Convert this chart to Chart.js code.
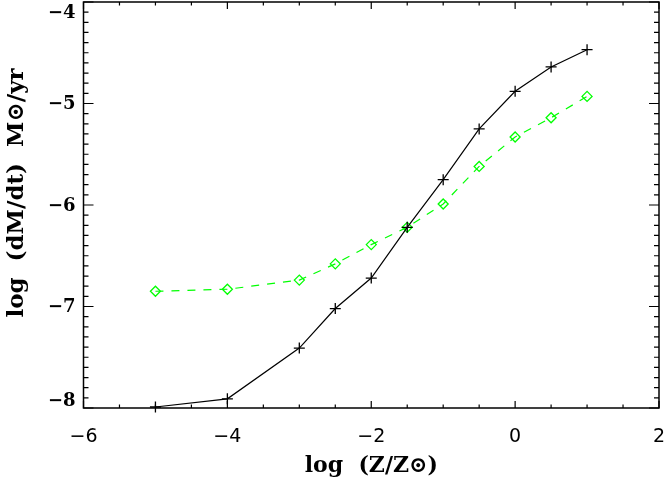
<!DOCTYPE html>
<html lang="en">
<head>
    <meta charset="UTF-8">
    <title>Mass loss rate vs metallicity</title>
    <script src="https://cdn.jsdelivr.net/npm/chart.js"></script>
    <style>
        body {
            margin: 0;
            background-color: #fff;
        }
        canvas {
            display: block;
        }
    </style>
</head>
<body>
    <canvas id="rateChart" width="664" height="480"></canvas>

    <script>
        // log(Z/Zsun) sample points
        const logZ = [-5, -4, -3, -2.5, -2, -1.5, -1, -0.5, 0, 0.5, 1];

        // log(dM/dt)
        const rateSolid = [-7.99, -7.91, -7.41, -7.02, -6.72, -6.22, -5.75, -5.25, -4.88, -4.64, -4.47];
        const rateDashed = [-6.85, -6.83, -6.74, -6.58, -6.39, -6.22, -5.99, -5.62, -5.33, -5.14, -4.93];

        // axis ticks
        const xTicks = [-6, -4, -2, 0, 2];
        const yTicks = [-8, -7, -6, -5, -4];
        const xMinorStep = 0.5;
        const yMinorStep = 0.1;

        // frame, inward ticks on all four sides, tick labels
        const framePlugin = {
            id: 'frame',
            afterDraw(chart) {
                const ctx = chart.ctx;
                const area = chart.chartArea;
                const xs = chart.scales.x;
                const ys = chart.scales.y;
                ctx.save();
                ctx.strokeStyle = '#000';
                ctx.lineWidth = 1.5;
                ctx.strokeRect(area.left, area.top, area.right - area.left, area.bottom - area.top);

                ctx.lineWidth = 1.2;
                ctx.beginPath();
                // x ticks
                for (let v = xTicks[0]; v <= xTicks[xTicks.length - 1] + 1e-9; v += xMinorStep) {
                    const px = xs.getPixelForValue(v);
                    const major = xTicks.some(t => Math.abs(t - v) < 1e-9);
                    const len = major ? 7 : 3.5;
                    ctx.moveTo(px, area.bottom);
                    ctx.lineTo(px, area.bottom - len);
                    ctx.moveTo(px, area.top);
                    ctx.lineTo(px, area.top + len);
                }
                // y ticks
                const nY = Math.round((yTicks[yTicks.length - 1] - yTicks[0]) / yMinorStep);
                for (let i = 0; i <= nY; i++) {
                    const v = yTicks[0] + i * yMinorStep;
                    const py = ys.getPixelForValue(v);
                    const major = i % 10 === 0;
                    const len = major ? 10 : 5;
                    ctx.moveTo(area.left, py);
                    ctx.lineTo(area.left + len, py);
                    ctx.moveTo(area.right, py);
                    ctx.lineTo(area.right - len, py);
                }
                ctx.stroke();

                // tick labels
                ctx.fillStyle = '#000';
                ctx.font = '19px "DejaVu Sans"';
                ctx.textAlign = 'center';
                ctx.textBaseline = 'middle';
                xTicks.forEach(t => {
                    ctx.fillText(String(t).replace('-', '\u2212'), xs.getPixelForValue(t), area.bottom + 29);
                });

                ctx.font = 'bold 18px "DejaVu Serif"';
                ctx.textAlign = 'right';
                yTicks.forEach(t => {
                    let py = ys.getPixelForValue(t);
                    py = Math.max(area.top + 10, Math.min(area.bottom - 8, py));
                    ctx.fillText(String(t).replace('-', '\u2212'), area.left - 8, py + 1);
                });
                ctx.restore();
            }
        };

        const ctx = document.getElementById('rateChart').getContext('2d');
        const rateChart = new Chart(ctx, {
            type: 'scatter',
            data: {
                datasets: [
                    {
                        label: 'solid',
                        data: logZ.map((z, i) => ({x: z, y: rateSolid[i]})),
                        showLine: true,
                        borderColor: '#000',
                        borderWidth: 1.2,
                        pointStyle: 'cross',
                        pointRadius: 5.5,
                        pointBorderWidth: 1.3,
                        pointBorderColor: '#000',
                        clip: false
                    },
                    {
                        label: 'dashed',
                        data: logZ.map((z, i) => ({x: z, y: rateDashed[i]})),
                        showLine: true,
                        borderColor: '#00ff00',
                        borderWidth: 1.2,
                        borderDash: [8, 8],
                        pointStyle: 'rectRot',
                        pointRadius: 5,
                        pointBorderWidth: 1.3,
                        pointBorderColor: '#00ff00',
                        pointBackgroundColor: 'rgba(0,0,0,0)',
                        clip: false
                    }
                ]
            },
            options: {
                responsive: false,
                animation: false,
                layout: {
                    autoPadding: false,
                    padding: {left: 0, top: 2, right: 5, bottom: 0}
                },
                plugins: {
                    legend: {display: false},
                    tooltip: {enabled: false}
                },
                scales: {
                    x: {
                        type: 'linear',
                        min: -6,
                        max: 2,
                        grid: {display: false, drawTicks: false},
                        border: {display: false},
                        ticks: {display: false},
                        title: {
                            display: true,
                            text: 'log  (Z/Z\u2299)',
                            color: '#000',
                            font: {family: '"DejaVu Serif"', size: 22, weight: 'bold'},
                            padding: {top: 44.8, bottom: 0.8}
                        }
                    },
                    y: {
                        type: 'linear',
                        min: -8,
                        max: -4,
                        grid: {display: false, drawTicks: false},
                        border: {display: false},
                        ticks: {display: false},
                        title: {
                            display: true,
                            text: '   log  (dM/dt)  M\u2299/yr',
                            color: '#000',
                            font: {family: '"DejaVu Serif"', size: 23, weight: 'bold'},
                            padding: {top: 3.2, bottom: 52.7}
                        }
                    }
                }
            },
            plugins: [framePlugin]
        });
    </script>
</body>
</html>
